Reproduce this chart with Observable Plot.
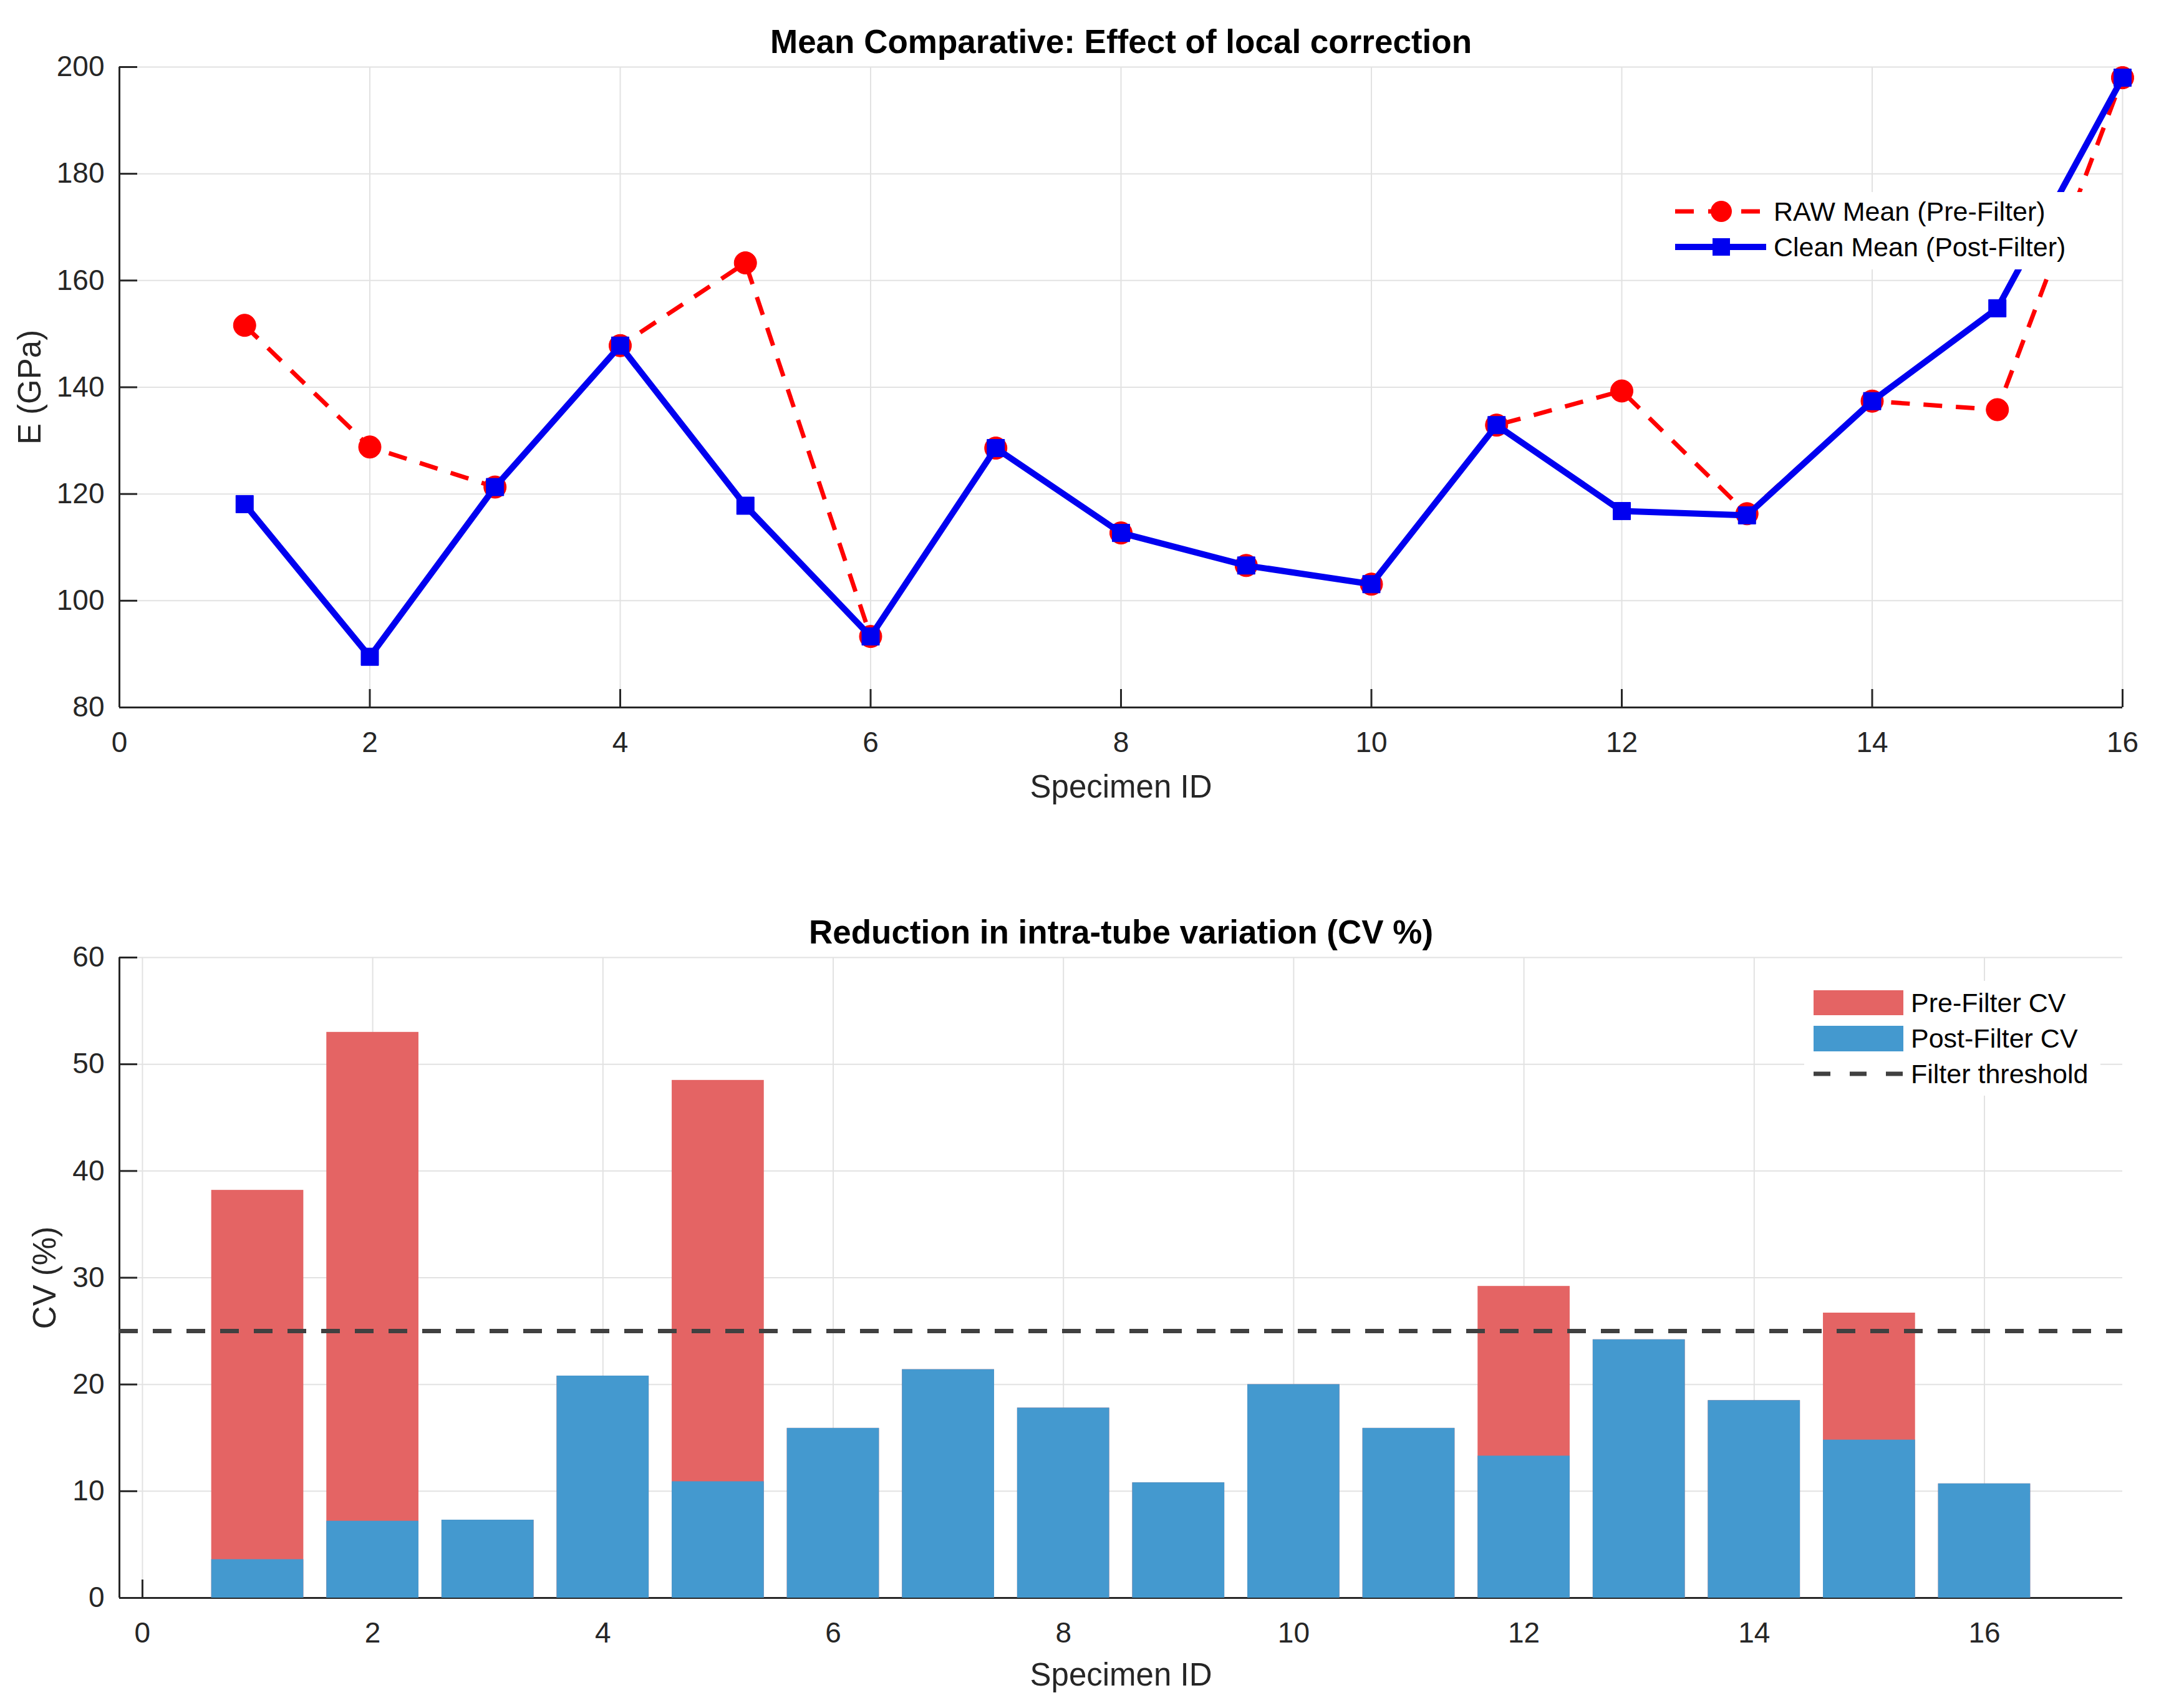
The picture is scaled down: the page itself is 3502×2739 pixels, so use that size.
<!DOCTYPE html>
<html>
<head>
<meta charset="utf-8">
<script src="https://cdn.jsdelivr.net/npm/d3@7"></script>
<script src="https://cdn.jsdelivr.net/npm/@observablehq/plot@0.6"></script>
<style>
  body { margin: 0; background: white; }
  #wrap { position: relative; width: 3502px; height: 2739px; background: white; overflow: hidden;
          font-family: "Liberation Sans", Arial, Helvetica, sans-serif; }
  #wrap svg { position: absolute; left: 0; }
</style>
</head>
<body>
<div id="wrap"></div>
<script>
// ---------- data ----------
const specimenIds = [1, 2, 3, 4, 5, 6, 7, 8, 9, 10, 11, 12, 13, 14, 15, 16];
const rawMean   = [151.6, 128.8, 121.3, 147.8, 163.3, 93.3, 128.6, 112.7, 106.6, 103.1, 132.9, 139.3, 116.3, 137.4, 135.8, 198.0];
const cleanMean = [118.1, 89.5, 121.3, 147.8, 117.8, 93.3, 128.6, 112.7, 106.6, 103.1, 132.9, 116.8, 116.0, 137.4, 154.8, 198.0];
const preCV  = [38.2, 53.0, 7.3, 20.8, 48.5, 15.9, 21.4, 17.8, 10.8, 20.0, 15.9, 29.2, 24.2, 18.5, 26.7, 10.7];
const postCV = [3.6, 7.2, 7.3, 20.8, 10.9, 15.9, 21.4, 17.8, 10.8, 20.0, 15.9, 13.3, 24.2, 18.5, 14.8, 10.7];
const cvThreshold = 25;

const topXTicks = [0, 2, 4, 6, 8, 10, 12, 14, 16];
const topYTicks = [80, 100, 120, 140, 160, 180, 200];
const botXTicks = [0, 2, 4, 6, 8, 10, 12, 14, 16];
const botYTicks = [0, 10, 20, 30, 40, 50, 60];

const topTitle = "Mean Comparative: Effect of local correction";
const botTitle = "Reduction in intra-tube variation (CV %)";
const xLabel = "Specimen ID";
const topYLabel = "E (GPa)";
const botYLabel = "CV (%)";
const lineLegend = ["RAW Mean (Pre-Filter)", "Clean Mean (Post-Filter)"];
const barLegend = ["Pre-Filter CV", "Post-Filter CV", "Filter threshold"];

// ---------- styles ----------
const FONT = "Liberation Sans, Arial, Helvetica, sans-serif";
const GRID = "#e2e2e2";
const AXIS = "#262626";
const RED = "#ff0000";
const BLUE = "#0000f0";
const BAR_RED = "#e46464";
const BAR_BLUE = "#4499cf";
const THR = "#404040";
const W = 3502;
const fmt = d => String(d);

const meanRows = specimenIds.map((id, i) => ({id, raw: rawMean[i], clean: cleanMean[i]}));
const cvRows = specimenIds.map((id, i) => ({id, pre: preCV[i], post: postCV[i]}));

const wrap = document.getElementById("wrap");

// ---------- top chart ----------
const topH = 1350, topM = {t: 107, b: 216, l: 191, r: 99};
const topPlotH = topH - topM.t - topM.b;
const topPlotW = W - topM.l - topM.r;
const topChart = Plot.plot({
  width: W, height: topH,
  marginTop: topM.t, marginBottom: topM.b, marginLeft: topM.l, marginRight: topM.r,
  style: {fontFamily: FONT, fontSize: "46px", color: AXIS, background: "white", overflow: "visible"},
  x: {domain: [0, 16]},
  y: {domain: [80, 200]},
  marks: [
    Plot.ruleX(topXTicks, {x: d => d, stroke: GRID, strokeWidth: 2}),
    Plot.ruleY(topYTicks, {y: d => d, stroke: GRID, strokeWidth: 2}),
    Plot.ruleX(topXTicks, {x: d => d, stroke: AXIS, strokeWidth: 3, insetTop: topPlotH - 29}),
    Plot.ruleY(topYTicks, {y: d => d, stroke: AXIS, strokeWidth: 3, insetRight: topPlotW - 29}),
    Plot.ruleY([80], {stroke: AXIS, strokeWidth: 3}),
    Plot.ruleX([0], {stroke: AXIS, strokeWidth: 3}),
    Plot.axisX(topXTicks, {tickSize: 0, tickPadding: 39, fontSize: 46, label: null, fill: AXIS, tickFormat: fmt}),
    Plot.axisY(topYTicks, {tickSize: 0, tickPadding: 24, fontSize: 46, label: null, fill: AXIS, tickFormat: fmt}),
    Plot.line(meanRows, {x: "id", y: "raw", stroke: RED, strokeWidth: 7, strokeDasharray: "30,22", strokeLinecap: "butt"}),
    Plot.dot(meanRows, {x: "id", y: "raw", r: 18, fill: RED, stroke: RED, strokeWidth: 1, symbol: "circle"}),
    Plot.line(meanRows, {x: "id", y: "clean", stroke: BLUE, strokeWidth: 10}),
    Plot.dot(meanRows, {x: "id", y: "clean", r: 15.8, fill: BLUE, stroke: BLUE, strokeWidth: 1, symbol: "square"}),
    Plot.text([topTitle], {text: d => d, frameAnchor: "top", lineAnchor: "middle", dy: -39, fontSize: 53, fontWeight: "bold", fill: "#000"}),
    Plot.text([xLabel], {text: d => d, frameAnchor: "bottom", lineAnchor: "middle", dy: 128, fontSize: 51, fill: AXIS}),
    Plot.text([topYLabel], {text: d => d, frameAnchor: "left", textAnchor: "middle", lineAnchor: "middle", dx: -143, rotate: -90, fontSize: 51, fill: AXIS})
  ]
});
topChart.style.top = "0px";
wrap.appendChild(topChart);

// ---------- bottom chart ----------
const botTop = 1350;
const botH = 2739 - botTop, botM = {t: 1535 - botTop, b: 177, l: 191, r: 99};
const botPlotH = botH - botM.t - botM.b;
const botPlotW = W - botM.l - botM.r;
const barHalf = 0.4;
const botChart = Plot.plot({
  width: W, height: botH,
  marginTop: botM.t, marginBottom: botM.b, marginLeft: botM.l, marginRight: botM.r,
  style: {fontFamily: FONT, fontSize: "46px", color: AXIS, background: "white", overflow: "visible"},
  x: {domain: [-0.2, 17.2]},
  y: {domain: [0, 60]},
  marks: [
    Plot.ruleX(botXTicks, {x: d => d, stroke: GRID, strokeWidth: 2}),
    Plot.ruleY(botYTicks, {y: d => d, stroke: GRID, strokeWidth: 2}),
    Plot.ruleX(botXTicks, {x: d => d, stroke: AXIS, strokeWidth: 3, insetTop: botPlotH - 29}),
    Plot.ruleY(botYTicks, {y: d => d, stroke: AXIS, strokeWidth: 3, insetRight: botPlotW - 29}),
    Plot.ruleY([0], {stroke: AXIS, strokeWidth: 3}),
    Plot.ruleX([-0.2], {stroke: AXIS, strokeWidth: 3}),
    Plot.axisX(botXTicks, {tickSize: 0, tickPadding: 39, fontSize: 46, label: null, fill: AXIS, tickFormat: fmt}),
    Plot.axisY(botYTicks, {tickSize: 0, tickPadding: 24, fontSize: 46, label: null, fill: AXIS, tickFormat: fmt}),
    Plot.rectY(cvRows, {x1: d => d.id - barHalf, x2: d => d.id + barHalf, y1: 0, y2: "pre", fill: BAR_RED}),
    Plot.rectY(cvRows, {x1: d => d.id - barHalf, x2: d => d.id + barHalf, y1: 0, y2: "post", fill: BAR_BLUE}),
    Plot.ruleY([cvThreshold], {stroke: THR, strokeWidth: 7, strokeDasharray: "30,24"}),
    Plot.text([botTitle], {text: d => d, frameAnchor: "top", lineAnchor: "middle", dy: -39, fontSize: 53, fontWeight: "bold", fill: "#000"}),
    Plot.text([xLabel], {text: d => d, frameAnchor: "bottom", lineAnchor: "middle", dy: 124, fontSize: 51, fill: AXIS}),
    Plot.text([botYLabel], {text: d => d, frameAnchor: "left", textAnchor: "middle", lineAnchor: "middle", dx: -119, rotate: -90, fontSize: 51, fill: AXIS})
  ]
});
botChart.style.top = botTop + "px";
wrap.appendChild(botChart);

// ---------- legends (overlay) ----------
const leg = d3.create("svg")
  .attr("width", W).attr("height", 2739)
  .style("position", "absolute").style("left", "0px").style("top", "0px")
  .style("font-family", FONT);

// top legend
const g1 = leg.append("g");
g1.append("rect").attr("x", 2672).attr("y", 308).attr("width", 672).attr("height", 124).attr("fill", "white");
g1.append("line").attr("x1", 2686).attr("x2", 2832).attr("y1", 339).attr("y2", 339)
  .attr("stroke", RED).attr("stroke-width", 7).attr("stroke-dasharray", "30,23");
g1.append("circle").attr("cx", 2760).attr("cy", 339).attr("r", 17).attr("fill", RED);
g1.append("line").attr("x1", 2686).attr("x2", 2832).attr("y1", 396).attr("y2", 396)
  .attr("stroke", BLUE).attr("stroke-width", 10);
g1.append("rect").attr("x", 2746).attr("y", 382).attr("width", 28).attr("height", 28).attr("fill", BLUE);
g1.selectAll("text").data(lineLegend).join("text")
  .attr("x", 2844).attr("y", (d, i) => [339, 396][i]).attr("dy", "0.35em")
  .attr("font-size", 43).attr("fill", "#000").text(d => d);

// bottom legend
const g2 = leg.append("g");
g2.append("rect").attr("x", 2893).attr("y", 1573).attr("width", 475).attr("height", 184).attr("fill", "white");
g2.append("rect").attr("x", 2908).attr("y", 1588).attr("width", 144).attr("height", 40).attr("fill", BAR_RED);
g2.append("rect").attr("x", 2908).attr("y", 1645).attr("width", 144).attr("height", 41).attr("fill", BAR_BLUE);
g2.append("line").attr("x1", 2908).attr("x2", 3052).attr("y1", 1722).attr("y2", 1722)
  .attr("stroke", THR).attr("stroke-width", 7).attr("stroke-dasharray", "27,31");
g2.selectAll("text").data(barLegend).join("text")
  .attr("x", 3064).attr("y", (d, i) => [1608, 1665, 1722][i]).attr("dy", "0.35em")
  .attr("font-size", 43).attr("fill", "#000").text(d => d);

wrap.appendChild(leg.node());
</script>
</body>
</html>
